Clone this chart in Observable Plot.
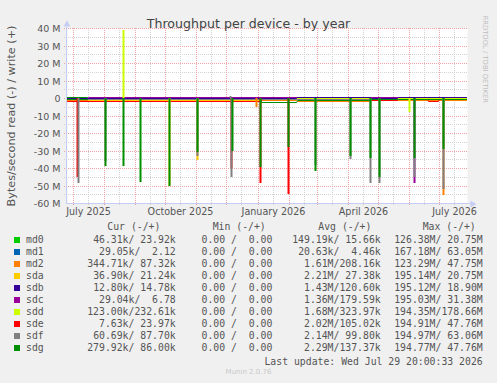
<!DOCTYPE html>
<html><head><meta charset="utf-8">
<script src="https://cdn.jsdelivr.net/npm/d3@7"></script>
<script src="https://cdn.jsdelivr.net/npm/@observablehq/plot@0.6"></script>
<style>
body{margin:0;background:#f0f0f0;}
#wrap{position:relative;width:497px;height:383px;overflow:hidden;background:#f0f0f0;font-family:"DejaVu Sans",sans-serif;}
#chart{position:absolute;left:0;top:0;}
.lg{position:absolute;font-family:"DejaVu Sans Mono",monospace;font-size:9.8px;line-height:12px;height:12px;color:#555;white-space:pre;}
.r{text-align:right;}
.sw{position:absolute;width:6px;height:6px;}
#munin{position:absolute;left:0;width:497px;text-align:center;font-family:"DejaVu Sans",sans-serif;font-size:7px;line-height:10px;color:#c8c8c8;}
</style></head>
<body><div id="wrap"><div id="chart"></div></div>
<script>
// ---- text ----
const title = "Throughput per device - by year";
const yTitle = "Bytes/second read (-) / write (+)";
const watermark = "RRDTOOL / TOBI OETIKER";
const lastUpdate = "Last update: Wed Jul 29 20:00:33 2026";
const version = "Munin 2.0.76";

// ---- axes / ticks ----
const yTicks = [-60,-50,-40,-30,-20,-10,0,10,20,30,40];
const yMajor = [-50,-40,-30,-20,-10,0,10,20,30,40];
const yMinor = [-55,-45,-35,-25,-15,-5,5,15,25,35];
const monthStarts = ["2025-07-01","2025-08-01","2025-09-01","2025-10-01","2025-11-01","2025-12-01","2026-01-01","2026-02-01","2026-03-01","2026-04-01","2026-05-01","2026-06-01","2026-07-01"];
const midMonths = ["2025-07-16","2025-08-16","2025-09-16","2025-10-16","2025-11-16","2025-12-16","2026-01-16","2026-02-16","2026-03-16","2026-04-16","2026-05-16","2026-06-16","2026-07-16"];
const xLabelDates = ["2025-07-16","2025-10-16","2026-01-16","2026-04-16","2026-07-16"];
const xLabels = ["July 2025","October 2025","January 2026","April 2026","July 2026"];

// ---- devices ----
const devices = ["md0","md1","md2","sda","sdb","sdc","sdd","sde","sdf","sdg"];
const colors = ["#00CC00","#0066B3","#FF8000","#FFCC00","#330099","#990099","#CCFF00","#FF0000","#808080","#008F00"];

// series values in MB/s: [date, value]; read negative, write positive
const S = "2025-06-25", E = "2026-07-28";
const md0Read = [[S,-0.3],[E,-0.3]];
const md0Write = [[S,0],[E,0]];
const md1Read = [[S,-0.1],[E,-0.1]];
const md1Write = [[S,0],[E,0]];
const md2Read = [[S,-1.3],["2026-02-08",-1.3],["2026-02-09",-1.5],["2026-04-23",-1.5],["2026-04-24",-1.3],[E,-1.3]];
const md2Write = [[S,0],[E,0]];
const sdaRead = [[S,-0.3],["2025-07-15",-0.3],["2025-07-16",-0.9],["2026-01-03",-0.9],["2026-01-04",-0.3],[E,-0.3]];
const sdaWrite = [[S,0],[E,0]];
const sdbRead = [[S,-0.2],[E,-0.2]];
const sdbWrite = [[S,0],["2026-02-08",0],["2026-02-09",0.5],["2026-04-23",0.5],["2026-04-24",0],["2026-05-20",0],["2026-05-21",0.5],[E,0.5]];
const sdcRead = [[S,-0.2],[E,-0.2]];
const sdcWrite = [[S,0],["2025-07-15",0],["2025-07-16",0.5],[E,0.5]];
const sddRead = [[S,-0.3],[E,-0.3]];
const sddWrite = [[S,0],[E,0]];
const sdeRead = [[S,-1.6],["2026-01-03",-1.6],["2026-01-04",-0.4],["2026-04-23",-0.4],["2026-04-24",-1.2],["2026-05-20",-1.2],["2026-05-21",-0.4],["2026-06-19",-0.4],["2026-06-20",-1.8],["2026-06-30",-1.8],["2026-07-01",-0.4],[E,-0.4]];
const sdeWrite = [[S,0],[E,0]];
const sdfRead = [[S,-0.3],[E,-0.3]];
const sdfWrite = [[S,0],[E,0]];
const sdgRead = [[S,-0.5],["2025-07-15",-0.5],["2025-07-16",-0.2],["2026-01-03",-0.2],["2026-01-04",-2],["2026-02-08",-2],["2026-02-09",-1],["2026-04-23",-1],["2026-04-24",-0.6],["2026-05-20",-0.6],["2026-05-21",-0.8],[E,-0.8]];
const sdgWrite = [[S,0.5],["2025-07-15",0.5],["2025-07-16",0],[E,0]];

// spikes (daily peaks)
const md2ReadSpikes = [["2025-12-31",-5],["2026-07-05",-55.4]];
const sdaReadSpikes = [["2025-10-05",-50.5],["2025-11-02",-35.4]];
const sdcReadSpikes = [["2026-06-06",-48.4]];
const sddReadSpikes = [["2026-06-01",-7.8]];
const sddWriteSpikes = [["2025-08-20",39]];
const sdeReadSpikes = [["2025-07-05",-45],["2025-12-06",-40],["2026-01-03",-48.7],["2026-01-31",-54.9]];
const sdfReadSpikes = [["2025-07-06",-48.7],["2025-08-02",-36],["2025-11-02",-33],["2025-12-06",-45],["2026-02-27",-38],["2026-04-03",-35],["2026-04-23",-48.7],["2026-05-02",-48.4],["2026-06-06",-45],["2026-07-05",-52]];
const sdfWriteSpikes = [["2025-12-05",1.2]];
const sdgReadSpikes = [["2025-08-02",-39],["2025-08-20",-38.7],["2025-09-06",-47.8],["2025-10-05",-50],["2025-11-02",-30.6],["2025-12-07",-30],["2026-01-03",-39.5],["2026-01-31",-28],["2026-02-27",-41.5],["2026-04-03",-33],["2026-04-23",-34],["2026-05-02",-45],["2026-06-06",-34],["2026-07-05",-29]];

const reads = [md0Read,md1Read,md2Read,sdaRead,sdbRead,sdcRead,sddRead,sdeRead,sdfRead,sdgRead];
const writes = [md0Write,md1Write,md2Write,sdaWrite,sdbWrite,sdcWrite,sddWrite,sdeWrite,sdfWrite,sdgWrite];
const readSpikes = [[],[],md2ReadSpikes,sdaReadSpikes,[],sdcReadSpikes,sddReadSpikes,sdeReadSpikes,sdfReadSpikes,sdgReadSpikes];
const writeSpikes = [[],[],[],[],[],[],sddWriteSpikes,[],sdfWriteSpikes,[]];
// drawing order of the near-zero write lines (topmost last)
const writeOrder = ["md0","md1","md2","sda","sde","sdf","sdg","sdd","sdc","sdb"];

// ---- legend values ----
const curVals = ["46.31k/ 23.92k","29.05k/  2.12","344.71k/ 87.32k","36.90k/ 21.24k","12.80k/ 14.78k","29.04k/  6.78","123.00k/232.61k","7.63k/ 23.97k","60.69k/ 87.70k","279.92k/ 86.00k"];
const minVals = ["0.00 /  0.00","0.00 /  0.00","0.00 /  0.00","0.00 /  0.00","0.00 /  0.00","0.00 /  0.00","0.00 /  0.00","0.00 /  0.00","0.00 /  0.00","0.00 /  0.00"];
const avgVals = ["149.19k/ 15.66k","20.63k/  4.46k","1.61M/208.16k","2.21M/ 27.38k","1.43M/120.60k","1.36M/179.59k","1.68M/323.97k","2.02M/105.02k","2.14M/ 99.80k","2.29M/137.37k"];
const maxVals = ["126.38M/ 20.75M","167.18M/ 63.05M","123.29M/ 47.75M","195.14M/ 20.75M","195.12M/ 18.90M","195.03M/ 31.38M","194.35M/178.66M","194.91M/ 47.76M","194.97M/ 63.06M","194.77M/ 47.76M"];
const headers = ["Cur (-/+)","Min (-/+)","Avg (-/+)","Max (-/+)"];

// ---- build chart ----
const T = d => new Date(d);
const gridMajor = "#eda3a3", gridMinor = "#d2d2d2", axisColor = "#c6cdf5";
const x0 = new Date("2025-06-25T08:00Z"), x1 = new Date("2026-07-28T14:00Z");

const marks = [
  Plot.frame({fill: "white", stroke: "none"}),
  Plot.ruleY(yMinor, {y: d => d, stroke: gridMinor, strokeDasharray: "1,1", insetLeft: -3}),
  Plot.ruleX(midMonths, {x: T, stroke: gridMinor, strokeDasharray: "1,1", insetBottom: -3}),
  Plot.ruleY(yMajor, {y: d => d, stroke: gridMajor, strokeDasharray: "1,1", insetLeft: -3}),
  Plot.ruleX(monthStarts, {x: T, stroke: gridMajor, strokeDasharray: "1,1", insetBottom: -3})
];
// read baselines
devices.forEach((dev, i) => {
  marks.push(Plot.line(reads[i], {x: d => T(d[0]), y: d => d[1], stroke: colors[i], strokeWidth: 1}));
});
// write baselines
writeOrder.forEach(dev => {
  const i = devices.indexOf(dev);
  marks.push(Plot.line(writes[i], {x: d => T(d[0]), y: d => d[1], stroke: colors[i], strokeWidth: 1}));
});
// spikes
devices.forEach((dev, i) => {
  marks.push(Plot.ruleX(readSpikes[i], {x: d => T(d[0]), y1: d => 0, y2: d => d[1], stroke: colors[i], strokeWidth: 2}));
  marks.push(Plot.ruleX(writeSpikes[i], {x: d => T(d[0]), y1: d => 0, y2: d => d[1], stroke: colors[i], strokeWidth: 2}));
});
marks.push(
  Plot.ruleY([-60], {y: d => d, stroke: axisColor, insetLeft: -1, insetRight: -4}),
  Plot.ruleX([x0], {x: d => d, stroke: axisColor, dx: -1, insetTop: -3}),
  Plot.dot([x0], {x: d => d, y: d => 40, symbol: "triangle", r: 2.6, fill: axisColor, stroke: "none", dx: -0.5, dy: -4}),
  Plot.dot([x1], {x: d => d, y: d => -60, symbol: "triangle", rotate: 90, r: 2.6, fill: axisColor, stroke: "none", dx: 5, dy: 0.5}),
  Plot.axisY({ticks: yTicks, tickFormat: d => d === 0 ? "0" : `${d} M`, tickSize: 0, tickPadding: 7, fontSize: 9.5, fill: "#555", label: null}),
  Plot.axisX({ticks: xLabelDates.map(T), tickFormat: d => xLabels[xLabelDates.indexOf(d3.utcFormat("%Y-%m-%d")(d))], tickSize: 0, tickPadding: 5, fontSize: 9.6, fill: "#555", label: null}),
  Plot.text([title], {text: d => d, frameAnchor: "top", dx: -19, dy: -9, fontSize: 12.6, fill: "#444"}),
  Plot.text([yTitle], {text: d => d, frameAnchor: "left", textAnchor: "middle", dx: -56, rotate: -90, fontSize: 11.2, fill: "#555"}),
  Plot.text([watermark], {text: d => d, frameAnchor: "top-right", dx: 20, dy: -13, rotate: 90, textAnchor: "start", fontSize: 6.8, fill: "#bdbdbd"})
);

const chart = Plot.plot({
  width: 497, height: 222,
  marginLeft: 67, marginRight: 30, marginTop: 28, marginBottom: 19,
  style: {fontFamily: "DejaVu Sans", background: "transparent", overflow: "visible"},
  x: {type: "utc", domain: [x0, x1], round: true},
  y: {domain: [-60, 40], round: true},
  marks
});
document.getElementById("chart").appendChild(chart);

// ---- legend ----
const wrap = document.getElementById("wrap");
function addText(txt, y, opts) {
  const el = document.createElement("div");
  el.className = "lg" + (opts.right != null ? " r" : "");
  el.textContent = txt;
  el.style.top = (y - 6) + "px";
  if (opts.left != null) el.style.left = opts.left + "px";
  if (opts.right != null) el.style.right = (497 - opts.right) + "px";
  wrap.appendChild(el);
}
const headerLeft = [107.3, 212.7, 318.3, 422.7];
headers.forEach((h, i) => addText(h, 227.3, {left: headerLeft[i]}));
devices.forEach((dev, i) => {
  const y = 240 + 12 * i;
  const sw = document.createElement("div");
  sw.className = "sw";
  sw.style.left = "14px"; sw.style.top = (y - 3) + "px"; sw.style.background = colors[i];
  wrap.appendChild(sw);
  addText(dev, y, {left: 26});
  addText(curVals[i], y, {right: 175.7});
  addText(minVals[i], y, {right: 272.3});
  addText(avgVals[i], y, {right: 380.7});
  addText(maxVals[i], y, {right: 482.7});
});
addText(lastUpdate, 361.7, {right: 482.7});
const m = document.createElement("div");
m.id = "munin"; m.textContent = version; m.style.top = "366.7px";
wrap.appendChild(m);
</script>
</body></html>
